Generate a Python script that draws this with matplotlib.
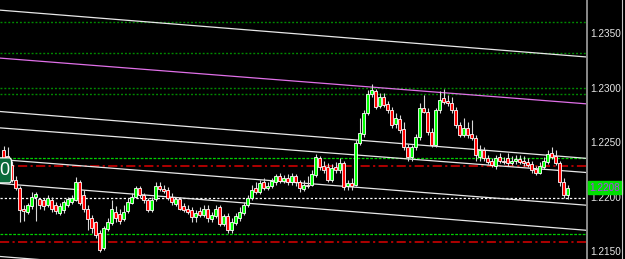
import matplotlib.pyplot as plt
import numpy as np
from matplotlib.lines import Line2D
from matplotlib.patches import FancyBboxPatch

# EURUSD-style candles, oldest first
opens = [1.2243, 1.2237, 1.2229, 1.2215, 1.2208, 1.2189, 1.2186, 1.2191, 1.2200, 1.2198,
         1.2197, 1.2192, 1.2197, 1.2192, 1.2185, 1.2188, 1.2192, 1.2195, 1.2197, 1.2213,
         1.2201, 1.2189, 1.2180, 1.2177, 1.2167, 1.2153, 1.2170, 1.2176, 1.2186, 1.2184,
         1.2179, 1.2187, 1.2194, 1.2200, 1.2208, 1.2201, 1.2197, 1.2188, 1.2198, 1.2210,
         1.2207, 1.2206, 1.2200, 1.2193, 1.2198, 1.2191, 1.2189, 1.2188, 1.2181, 1.2187,
         1.2183, 1.2189, 1.2179, 1.2182, 1.2190, 1.2175, 1.2182, 1.2169, 1.2176, 1.2180,
         1.2185, 1.2192, 1.2199, 1.2208, 1.2204, 1.2213, 1.2208, 1.2210, 1.2213, 1.2219,
         1.2214, 1.2217, 1.2213, 1.2219, 1.2213, 1.2207, 1.2211, 1.2211, 1.2220, 1.2235,
         1.2228, 1.2227, 1.2215, 1.2227, 1.2224, 1.2231, 1.2210, 1.2212, 1.2211, 1.2249,
         1.2257, 1.2277, 1.2294, 1.2297, 1.2283, 1.2291, 1.2285, 1.2279, 1.2267, 1.2271,
         1.2262, 1.2245, 1.2236, 1.2245, 1.2255, 1.2281, 1.2278, 1.2259, 1.2247, 1.2279,
         1.2290, 1.2288, 1.2286, 1.2279, 1.2266, 1.2256, 1.2263, 1.2257, 1.2254, 1.2236,
         1.2243, 1.2235, 1.2233, 1.2228, 1.2236, 1.2233, 1.2235, 1.2231, 1.2233, 1.2234,
         1.2233, 1.2232, 1.2230, 1.2225, 1.2222, 1.2227, 1.2232, 1.2240, 1.2237, 1.2231,
         1.2213, 1.2201]
highs = [1.2246, 1.2245, 1.2233, 1.2219, 1.2210, 1.2192, 1.2194, 1.2204, 1.2204, 1.2199,
         1.2199, 1.2201, 1.2200, 1.2195, 1.2194, 1.2197, 1.2200, 1.2201, 1.2218, 1.2215,
         1.2206, 1.2192, 1.2183, 1.2178, 1.2169, 1.2173, 1.2180, 1.2197, 1.2191, 1.2189,
         1.2192, 1.2199, 1.2203, 1.2210, 1.2210, 1.2203, 1.2199, 1.2200, 1.2213, 1.2213,
         1.2211, 1.2209, 1.2203, 1.2200, 1.2200, 1.2194, 1.2192, 1.2190, 1.2188, 1.2190,
         1.2192, 1.2192, 1.2186, 1.2192, 1.2192, 1.2184, 1.2185, 1.2180, 1.2185, 1.2190,
         1.2195, 1.2201, 1.2211, 1.2213, 1.2215, 1.2217, 1.2213, 1.2217, 1.2221, 1.2222,
         1.2220, 1.2221, 1.2222, 1.2221, 1.2215, 1.2215, 1.2219, 1.2224, 1.2239, 1.2237,
         1.2233, 1.2231, 1.2230, 1.2232, 1.2235, 1.2233, 1.2215, 1.2217, 1.2252, 1.2272,
         1.2279, 1.2298, 1.2303, 1.2299, 1.2295, 1.2295, 1.2288, 1.2282, 1.2277, 1.2275,
         1.2268, 1.2248, 1.2247, 1.2257, 1.2286, 1.2293, 1.2281, 1.2263, 1.2281, 1.2297,
         1.2299, 1.2293, 1.2291, 1.2282, 1.2268, 1.2272, 1.2268, 1.2270, 1.2256, 1.2247,
         1.2245, 1.2238, 1.2235, 1.2238, 1.2240, 1.2236, 1.2240, 1.2237, 1.2238, 1.2238,
         1.2237, 1.2235, 1.2233, 1.2228, 1.2232, 1.2236, 1.2243, 1.2245, 1.2243, 1.2233,
         1.2217, 1.2211]
lows = [1.2233, 1.2226, 1.2213, 1.2206, 1.2177, 1.2178, 1.2184, 1.2189, 1.2178, 1.2189,
        1.2188, 1.2190, 1.2186, 1.2184, 1.2183, 1.2185, 1.2190, 1.2193, 1.2196, 1.2192,
        1.2186, 1.2169, 1.2167, 1.2162, 1.2149, 1.2151, 1.2168, 1.2174, 1.2177, 1.2175,
        1.2178, 1.2185, 1.2193, 1.2199, 1.2199, 1.2194, 1.2186, 1.2186, 1.2196, 1.2205,
        1.2203, 1.2197, 1.2192, 1.2191, 1.2188, 1.2186, 1.2184, 1.2177, 1.2177, 1.2181,
        1.2181, 1.2177, 1.2177, 1.2180, 1.2173, 1.2173, 1.2167, 1.2167, 1.2174, 1.2178,
        1.2183, 1.2190, 1.2197, 1.2202, 1.2202, 1.2206, 1.2206, 1.2208, 1.2211, 1.2212,
        1.2212, 1.2211, 1.2211, 1.2210, 1.2204, 1.2205, 1.2208, 1.2210, 1.2218, 1.2224,
        1.2222, 1.2213, 1.2213, 1.2222, 1.2222, 1.2206, 1.2206, 1.2206, 1.2210, 1.2247,
        1.2255, 1.2275, 1.2291, 1.2280, 1.2281, 1.2282, 1.2277, 1.2263, 1.2263, 1.2258,
        1.2243, 1.2233, 1.2233, 1.2243, 1.2252, 1.2277, 1.2256, 1.2245, 1.2245, 1.2277,
        1.2285, 1.2283, 1.2277, 1.2263, 1.2255, 1.2255, 1.2254, 1.2252, 1.2233, 1.2233,
        1.2233, 1.2230, 1.2227, 1.2225, 1.2231, 1.2230, 1.2228, 1.2229, 1.2230, 1.2230,
        1.2228, 1.2227, 1.2222, 1.2220, 1.2221, 1.2225, 1.2230, 1.2234, 1.2229, 1.2210,
        1.2199, 1.2198]
closes = [1.2235, 1.2229, 1.2215, 1.2208, 1.2188, 1.2187, 1.2192, 1.2200, 1.2202, 1.2192,
          1.2191, 1.2199, 1.2189, 1.2187, 1.2191, 1.2195, 1.2198, 1.2199, 1.2213, 1.2194,
          1.2189, 1.2179, 1.2171, 1.2165, 1.2151, 1.2171, 1.2177, 1.2189, 1.2180, 1.2178,
          1.2186, 1.2195, 1.2200, 1.2208, 1.2201, 1.2197, 1.2188, 1.2197, 1.2210, 1.2207,
          1.2205, 1.2199, 1.2195, 1.2198, 1.2189, 1.2188, 1.2186, 1.2181, 1.2185, 1.2183,
          1.2189, 1.2180, 1.2183, 1.2189, 1.2175, 1.2182, 1.2169, 1.2177, 1.2182, 1.2186,
          1.2192, 1.2199, 1.2206, 1.2204, 1.2212, 1.2208, 1.2210, 1.2214, 1.2219, 1.2214,
          1.2217, 1.2213, 1.2219, 1.2213, 1.2208, 1.2211, 1.2210, 1.2221, 1.2236, 1.2227,
          1.2224, 1.2215, 1.2226, 1.2224, 1.2231, 1.2209, 1.2212, 1.2210, 1.2249, 1.2258,
          1.2277, 1.2294, 1.2298, 1.2282, 1.2291, 1.2284, 1.2279, 1.2266, 1.2272, 1.2261,
          1.2245, 1.2236, 1.2245, 1.2255, 1.2281, 1.2278, 1.2259, 1.2247, 1.2279, 1.2289,
          1.2287, 1.2286, 1.2279, 1.2266, 1.2256, 1.2263, 1.2256, 1.2254, 1.2238, 1.2243,
          1.2235, 1.2232, 1.2229, 1.2235, 1.2233, 1.2232, 1.2231, 1.2233, 1.2234, 1.2232,
          1.2231, 1.2229, 1.2224, 1.2222, 1.2228, 1.2233, 1.2239, 1.2236, 1.2231, 1.2213,
          1.2201, 1.2208]

price_ticks = [1.2150, 1.2200, 1.2250, 1.2300, 1.2350]
last_price = 1.2208
left_label = "0"  # tail of the clipped price tag at the left edge

# channel lines: price at left edge, price at right edge
trend_left = [1.2371, 1.2327, 1.2278, 1.2263, 1.2234, 1.2212, 1.2145]
trend_right = [1.2328, 1.2285, 1.2235, 1.2222, 1.2192, 1.2169, 1.2103]
trend_colors = ["#e8e8e8", "#e070e8", "#e8e8e8", "#e8e8e8", "#e8e8e8", "#e8e8e8", "#e8e8e8"]

dark_green_levels = [1.2360, 1.2332, 1.2300, 1.2294]
green_levels = [1.2235, 1.2166]
red_levels = [1.2228, 1.2158]
white_levels = [1.2199]

plt.rcParams["font.family"] = ["Liberation Sans", "DejaVu Sans"]

fig = plt.figure(figsize=(6.25, 2.59), dpi=100, facecolor="black")
ax = fig.add_axes([0, 0, 587 / 625, 1], facecolor="black")

x = np.arange(len(closes))
o = np.array(opens)
c = np.array(closes)
x0, x1 = -0.875, 145.875

# levels and channels
for p in dark_green_levels:
    ax.axhline(p, color="#008a00", lw=1.0, ls=(0, (1.4, 1.4)), zorder=1)
for p in green_levels:
    ax.axhline(p, color="#00d000", lw=0.9, ls=(0, (2.2, 1.2)), zorder=1)
for p in red_levels:
    ax.axhline(p, color="#dd0000", lw=1.1, ls=(0, (6, 2.2, 1.4, 2.2)), zorder=1)
for p in white_levels:
    ax.axhline(p, color="white", lw=0.9, ls=(0, (1.8, 1.6)), zorder=1)
for pl, pr, col in zip(trend_left, trend_right, trend_colors):
    ax.plot([x0, x1], [pl, pr], color=col, lw=0.9, zorder=1)

# candles
ax.vlines(x, lows, highs, color="#d8d8d8", lw=0.8, zorder=2)
up = c >= o
ax.bar(x[up], (c - o)[up], bottom=o[up], width=0.7, color="#00ff00",
       edgecolor="white", linewidth=0.6, zorder=3)
ax.bar(x[~up], (o - c)[~up], bottom=c[~up], width=0.7, color="#ff0000",
       edgecolor="white", linewidth=0.6, zorder=3)

ax.set_xlim(x0, x1)
ax.set_ylim(1.21427, 1.23803)
ax.set_xticks([])
ax.yaxis.tick_right()
ax.set_yticks(price_ticks)
ax.set_yticklabels([f"{t:.4f}" for t in price_ticks])
ax.tick_params(axis="y", length=0, pad=2.5, labelsize=7.2, labelcolor="#e6e6e6")
for s in ["top", "left", "bottom"]:
    ax.spines[s].set_visible(False)
ax.spines["right"].set_color("#8a8a8a")
ax.spines["right"].set_linewidth(1.4)

# clipped price tag at the left edge
tag = FancyBboxPatch((-3.0, 1.22125), 5.0, 0.0023, boxstyle="round,pad=0,rounding_size=0.6",
                     mutation_aspect=0.0006, fc="#0a6a3a", ec="white", lw=0.9, zorder=5)
ax.add_patch(tag)
ax.text(0.3, 1.22237, left_label, ha="center", va="center", color="white", fontsize=13,
        zorder=6)

# current price tag on the scale
ax.text(1.004, last_price, f"{last_price:.4f}", transform=ax.get_yaxis_transform(),
        ha="left", va="center", color="#b040f0", fontsize=7.2, clip_on=False, zorder=6,
        bbox=dict(boxstyle="square,pad=0.15", fc="#00e000", ec="#00e000"))

fig.add_artist(Line2D([622 / 625, 622 / 625], [0, 1], color="#c8c8c8", lw=0.8,
                      transform=fig.transFigure))

fig.savefig("out.png", dpi=100, facecolor="black")
